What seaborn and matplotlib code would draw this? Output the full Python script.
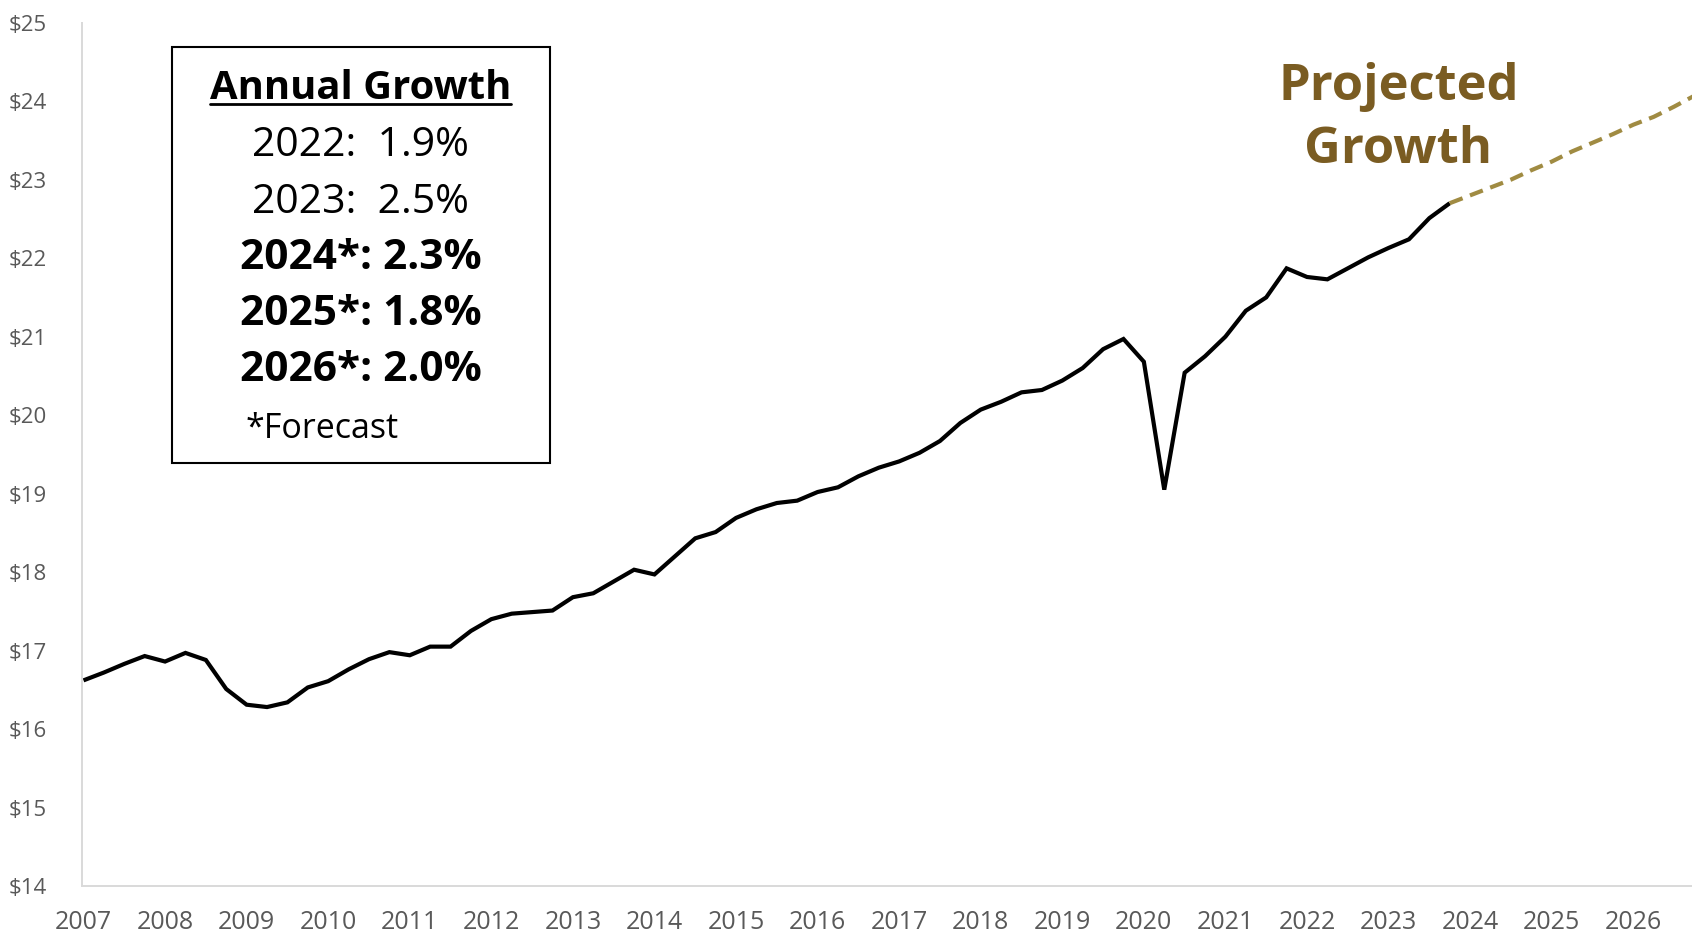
import matplotlib
matplotlib.use("Agg")
import matplotlib.pyplot as plt
import seaborn as sns
import pandas as pd
import numpy as np
from matplotlib.patches import Rectangle
from matplotlib.lines import Line2D

# ---------------- data ----------------
years_actual = list(range(2007, 2024))
actual_values = [
    16.62, 16.72, 16.83, 16.93,   # 2007
    16.86, 16.97, 16.88, 16.51,   # 2008
    16.31, 16.28, 16.34, 16.53,   # 2009
    16.61, 16.76, 16.89, 16.98,   # 2010
    16.94, 17.05, 17.05, 17.25,   # 2011
    17.40, 17.47, 17.49, 17.51,   # 2012
    17.68, 17.73, 17.88, 18.03,   # 2013
    17.97, 18.20, 18.43, 18.51,   # 2014
    18.69, 18.80, 18.88, 18.91,   # 2015
    19.02, 19.08, 19.22, 19.33,   # 2016
    19.41, 19.52, 19.67, 19.90,   # 2017
    20.07, 20.17, 20.29, 20.32,   # 2018
    20.44, 20.60, 20.84, 20.97,   # 2019
    20.68, 19.05, 20.54, 20.75,   # 2020
    21.00, 21.33, 21.50, 21.87,   # 2021
    21.76, 21.73, 21.87, 22.01,   # 2022
    22.13, 22.24, 22.51, 22.70,   # 2023
]
years_forecast = [2024, 2025, 2026]
forecast_values = [
    22.70,                        # 2023 Q4 (join point)
    22.80, 22.90, 23.00, 23.12,   # 2024
    23.23, 23.36, 23.47, 23.58,   # 2025
    23.70, 23.80, 23.93, 24.07,   # 2026
]
year_tick_labels = [str(y) for y in range(2007, 2027)]
y_ticks = list(range(14, 26))
y_tick_labels = [f"${v}" for v in y_ticks]

box_title = "Annual Growth"
box_lines_regular = ["2022:  1.9%", "2023:  2.5%"]
box_lines_bold = ["2024*: 2.3%", "2025*: 1.8%", "2026*: 2.0%"]
box_note = "*Forecast"
proj_lines = ["Projected", "Growth"]

# ---------------- frames ----------------
x_actual = [y + q / 4 for y in years_actual for q in range(4)]
df_actual = pd.DataFrame({"t": x_actual, "wage": actual_values})
x_fore = [2023.75] + [y + q / 4 for y in years_forecast for q in range(4)]
df_fore = pd.DataFrame({"t": x_fore, "wage": forecast_values})

# ---------------- style ----------------
sns.set_style("white")
plt.rcParams["font.family"] = ["Open Sans", "DejaVu Sans"]

W, H = 1692, 938
fig = plt.figure(figsize=(W / 100, H / 100), dpi=100)
ax = fig.add_axes([81.7 / W, (H - 886) / H, 1 - 81.7 / W, (886 - 22.7) / H])

GOLD_TXT = "#7a5c22"
GOLD_LINE = "#a08b42"
GRAY = "#595959"

sns.lineplot(data=df_actual, x="t", y="wage", ax=ax, color="black",
             linewidth=3.0, solid_joinstyle="miter", solid_capstyle="butt")
sns.lineplot(data=df_fore, x="t", y="wage", ax=ax, color=GOLD_LINE,
             linewidth=3.0, linestyle=(0, (3.3, 1.9)))

ax.set_xlim(2006.978, 2026.72)
ax.set_ylim(14, 25)
ax.set_xticks(list(range(2007, 2027)))
ax.set_xticklabels(year_tick_labels)
ax.set_yticks(y_ticks)
ax.set_yticklabels(y_tick_labels)
ax.set_xlabel("")
ax.set_ylabel("")
ax.tick_params(axis="x", length=0, pad=17, labelsize=18, labelcolor=GRAY)
ax.tick_params(axis="y", length=0, pad=25, labelsize=16, labelcolor=GRAY)
for lab in ax.get_yticklabels():
    lab.set_horizontalalignment("right")

for side in ["top", "right"]:
    ax.spines[side].set_visible(False)
for side in ["left", "bottom"]:
    ax.spines[side].set_color("#d9d9d9")
    ax.spines[side].set_linewidth(1.4)

# ---------------- annotation box ----------------
def fx(px):
    return px / W

def fy(py):
    return 1 - py / H

fig.patches.append(Rectangle((fx(171.7), fy(463)), fx(550.2) - fx(171.7), fy(47.5) - fy(463),
                             transform=fig.transFigure, fill=False, edgecolor="black",
                             linewidth=1.5, zorder=5))

cx = fx(360.5)
t_title = fig.text(cx, fy(99.3), box_title, ha="center", va="baseline",
                   fontsize=28.8, fontweight="bold", color="black")
baselines = [156, 212.7, 269, 325, 380.7]
for i, s in enumerate(box_lines_regular):
    fig.text(cx, fy(baselines[i]), s, ha="center", va="baseline", fontsize=29.5, color="black")
for j, s in enumerate(box_lines_bold):
    fig.text(cx, fy(baselines[2 + j]), s, ha="center", va="baseline", fontsize=30.5,
             fontweight="bold", color="black")
fig.text(fx(246), fy(438), box_note, ha="left", va="baseline", fontsize=24.5, color="black")

# underline title
fig.canvas.draw()
bb = t_title.get_window_extent(renderer=fig.canvas.get_renderer())
fig.lines.append(Line2D([bb.x0 / W, bb.x1 / W], [fy(104), fy(104)],
                        transform=fig.transFigure, color="black", linewidth=2.0))

fig.text(fx(1398.5), fy(100), proj_lines[0], ha="center", va="baseline",
         fontsize=36.5, fontweight="bold", color=GOLD_TXT)
fig.text(fx(1398.5), fy(163.3), proj_lines[1], ha="center", va="baseline",
         fontsize=36.5, fontweight="bold", color=GOLD_TXT)

fig.savefig("out.png", dpi=100)
